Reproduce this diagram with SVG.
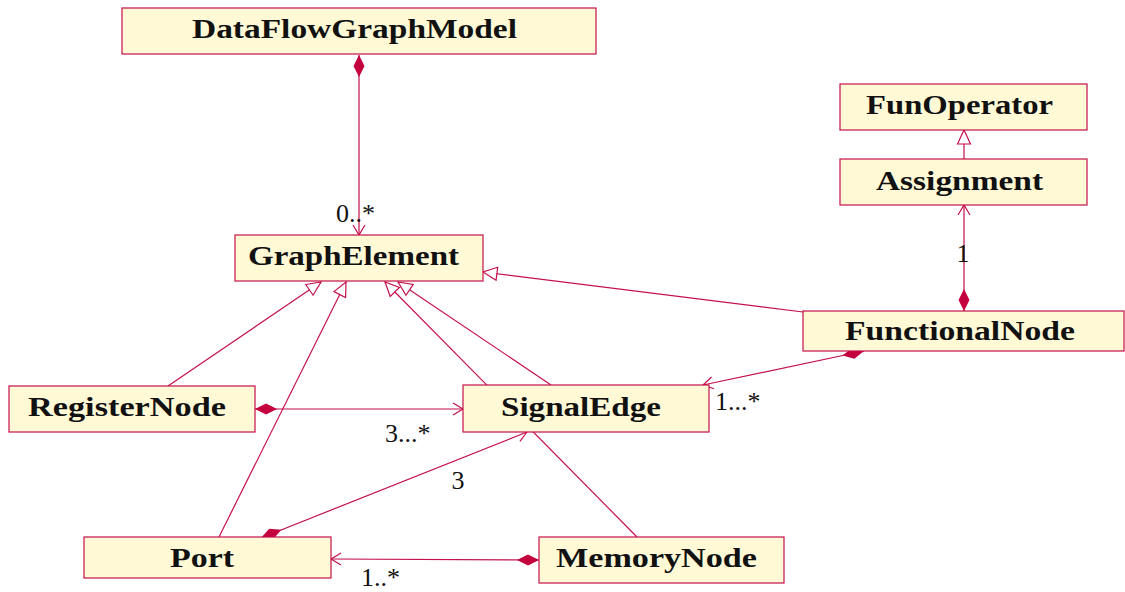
<svg xmlns="http://www.w3.org/2000/svg" width="1125" height="592" viewBox="0 0 1125 592">
<style>
.box{fill:#fff9d6;stroke:#c4104a;stroke-width:1.2}
.t{font-family:"Liberation Serif",serif;font-weight:bold;font-size:27px;fill:#111}
.l{font-family:"Liberation Serif",serif;font-size:26px;fill:#111}
.c{stroke:#c4104a;stroke-width:1.2;fill:none}
</style>
<defs>
<marker id="dia" markerUnits="userSpaceOnUse" markerWidth="30" markerHeight="14" refX="0" refY="7" viewBox="0 0 30 14" orient="auto"><path d="M0,7 L11,1.5 L22,7 L11,12.5 Z" fill="#c4003f"/></marker>
<marker id="open" markerUnits="userSpaceOnUse" markerWidth="14" markerHeight="16" refX="12" refY="8" viewBox="0 0 14 16" orient="auto"><path d="M2,2 L12,8 L2,14" fill="none" stroke="#c4104a" stroke-width="1.2"/></marker>
<marker id="tri" markerUnits="userSpaceOnUse" markerWidth="18" markerHeight="16" refX="16" refY="8" viewBox="0 0 18 16" orient="auto"><path d="M2,1.5 L16,8 L2,14.5 Z" fill="#fff" stroke="#c4104a" stroke-width="1.2"/></marker>
</defs>
<g id="connectors">
<path class="c" d="M359,55 L359,235" marker-start="url(#dia)" marker-end="url(#open)"/>
<path class="c" d="M964,311 L964,205" marker-start="url(#dia)" marker-end="url(#open)"/>
<path class="c" d="M864,351 L703,385" marker-start="url(#dia)" marker-end="url(#open)"/>
<path class="c" d="M255,409 L463,409" marker-start="url(#dia)" marker-end="url(#open)"/>
<path class="c" d="M261,538 L527,432" marker-start="url(#dia)" marker-end="url(#open)"/>
<path class="c" d="M539,560 L331,559" marker-start="url(#dia)" marker-end="url(#open)"/>
<path class="c" d="M168,386 L321,282" marker-end="url(#tri)"/>
<path class="c" d="M219,537 L346,282" marker-end="url(#tri)"/>
<path class="c" d="M637,537 L385,282" marker-end="url(#tri)"/>
<path class="c" d="M551,385 L398,282" marker-end="url(#tri)"/>
<path class="c" d="M803,312 L483,272" marker-end="url(#tri)"/>
<path class="c" d="M964,159 L964,130" marker-end="url(#tri)"/>
<text class="l" x="336" y="222">0..*</text>
<text class="l" x="963" y="262" text-anchor="middle">1</text>
<text class="l" x="715" y="410">1...*</text>
<text class="l" x="385" y="442">3...*</text>
<text class="l" x="458" y="489" text-anchor="middle">3</text>
<text class="l" x="361" y="586">1..*</text>
</g>
<g id="DataFlowGraphModel"><rect class="box" x="122" y="8" width="474" height="46"/><text class="t" x="192" y="38" textLength="325" lengthAdjust="spacingAndGlyphs">DataFlowGraphModel</text></g>
<g id="GraphElement"><rect class="box" x="235" y="235" width="248" height="46"/><text class="t" x="248" y="265" textLength="211" lengthAdjust="spacingAndGlyphs">GraphElement</text></g>
<g id="FunOperator"><rect class="box" x="840" y="84" width="247" height="46"/><text class="t" x="866" y="114" textLength="187" lengthAdjust="spacingAndGlyphs">FunOperator</text></g>
<g id="Assignment"><rect class="box" x="840" y="159" width="247" height="46"/><text class="t" x="876" y="190" textLength="167" lengthAdjust="spacingAndGlyphs">Assignment</text></g>
<g id="FunctionalNode"><rect class="box" x="803" y="311" width="321" height="40"/><text class="t" x="845" y="340" textLength="230" lengthAdjust="spacingAndGlyphs">FunctionalNode</text></g>
<g id="RegisterNode"><rect class="box" x="9" y="386" width="246" height="46"/><text class="t" x="28" y="416" textLength="198" lengthAdjust="spacingAndGlyphs">RegisterNode</text></g>
<g id="SignalEdge"><rect class="box" x="463" y="385" width="246" height="47"/><text class="t" x="501" y="416" textLength="160" lengthAdjust="spacingAndGlyphs">SignalEdge</text></g>
<g id="Port"><rect class="box" x="84" y="537" width="247" height="41"/><text class="t" x="170" y="567" textLength="64" lengthAdjust="spacingAndGlyphs">Port</text></g>
<g id="MemoryNode"><rect class="box" x="539" y="537" width="245" height="46"/><text class="t" x="556" y="567" textLength="201" lengthAdjust="spacingAndGlyphs">MemoryNode</text></g>
</svg>
